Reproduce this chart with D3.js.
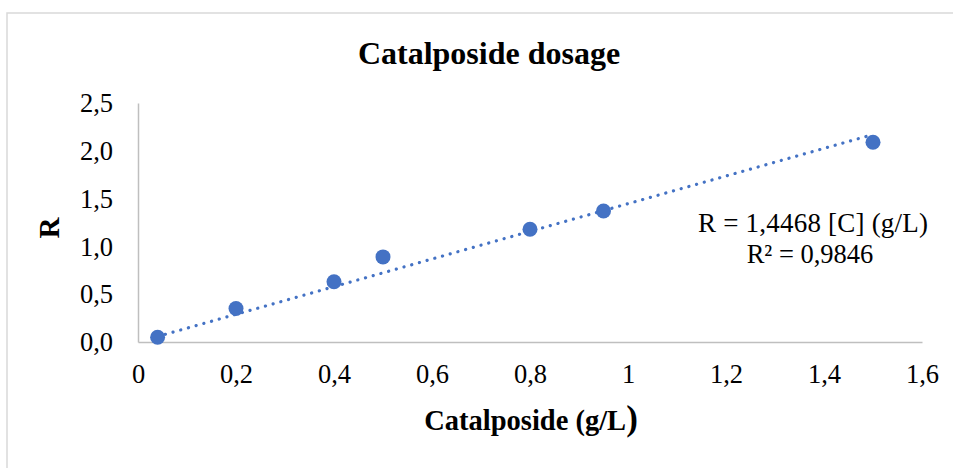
<!DOCTYPE html>
<html><head><meta charset="utf-8">
<script src="https://cdn.jsdelivr.net/npm/d3@7"></script>
<style>
html,body{margin:0;padding:0;background:#fff;}
svg{display:block;font-family:"Liberation Serif","Times New Roman",serif;}
</style></head>
<body>
<svg id="chart" width="953" height="468"></svg>
<script>
const concentration = [0.04, 0.2, 0.4, 0.5, 0.8, 0.95, 1.5];
const ratioR = [0.05, 0.35, 0.63, 0.89, 1.18, 1.37, 2.09];
const trendSlope = 1.4468;
const xTicks = [0, 0.2, 0.4, 0.6, 0.8, 1, 1.2, 1.4, 1.6];
const yTicks = [0, 0.5, 1.0, 1.5, 2.0, 2.5];
const chartTitle = "Catalposide dosage";
const xTitle = "Catalposide (g/L";
const yTitle = "R";
const eqLine1 = "R = 1,4468 [C] (g/L)";
const eqLine2 = "R² = 0,9846";

const svg = d3.select("#chart");
const blue = "#4472C4";
const axisCol = "#bfbfbf";

// chart border
svg.append("rect").attr("x", 7).attr("y", 13).attr("width", 960).attr("height", 470)
  .attr("fill", "#fff").attr("stroke", "#d9d9d9").attr("stroke-width", 1.5);

const x = d3.scaleLinear().domain([0, 1.6]).range([138, 922]);
const y = d3.scaleLinear().domain([0, 2.5]).range([342, 103]);

const fmtX = d => (d === 0 ? "0" : String(d).replace(".", ","));
const fmtY = d => d.toFixed(1).replace(".", ",");

// x axis
const xa = svg.append("g").attr("transform", `translate(0,${y(0)})`)
  .call(d3.axisBottom(x).tickValues(xTicks).tickSize(0).tickPadding(0).tickFormat(fmtX));
xa.select(".domain").attr("stroke", axisCol).attr("stroke-width", 1.5);
xa.selectAll("text").attr("fill", "#000").attr("font-size", 26.5)
  .attr("font-family", '"Liberation Serif","Times New Roman",serif')
  .attr("y", 41).attr("dy", 0);

// y axis
const ya = svg.append("g").attr("transform", `translate(${x(0)},0)`)
  .call(d3.axisLeft(y).tickValues(yTicks).tickSize(0).tickPadding(0).tickFormat(fmtY));
ya.select(".domain").attr("stroke", axisCol).attr("stroke-width", 1.5);
ya.selectAll("text").attr("fill", "#000").attr("font-size", 26.5)
  .attr("font-family", '"Liberation Serif","Times New Roman",serif')
  .attr("x", -25).attr("dy", "0.33em");

// trendline
const tx0 = d3.min(concentration), tx1 = d3.max(concentration);
const trend = [[tx0, trendSlope * tx0], [tx1, trendSlope * tx1]];
svg.append("path")
  .attr("d", d3.line().x(d => x(d[0])).y(d => y(d[1]))(trend))
  .attr("fill", "none").attr("stroke", blue).attr("stroke-width", 3.2)
  .attr("stroke-linecap", "round").attr("stroke-dasharray", "0.1 7.9");

// points
svg.append("g").selectAll("circle").data(concentration).join("circle")
  .attr("cx", d => x(d)).attr("cy", (d, i) => y(ratioR[i])).attr("r", 7.5)
  .attr("fill", blue);

// title
svg.append("text").attr("x", 489).attr("y", 64).attr("text-anchor", "middle")
  .attr("font-size", 32).attr("font-weight", "bold").text(chartTitle);

// x title
const xt = svg.append("text").attr("x", 531).attr("y", 430).attr("text-anchor", "middle")
  .attr("font-size", 28.5).attr("font-weight", "bold");
xt.append("tspan").text(xTitle);
xt.append("tspan").attr("font-size", 35).text(")");

// y title
svg.append("text").attr("transform", "translate(59,228) rotate(-90)")
  .attr("text-anchor", "middle").attr("font-size", 29).attr("font-weight", "bold").text(yTitle);

// equation
svg.append("text").attr("x", 813).attr("y", 232).attr("text-anchor", "middle")
  .attr("font-size", 27).attr("textLength", 230).text(eqLine1);
svg.append("text").attr("x", 810).attr("y", 263).attr("text-anchor", "middle")
  .attr("font-size", 26.5).text(eqLine2);
</script>
</body></html>
